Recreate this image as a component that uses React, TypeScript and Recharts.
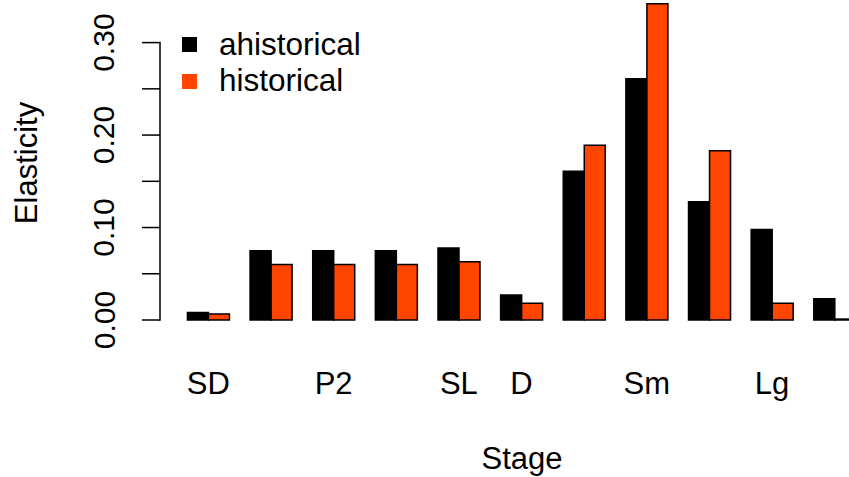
import { BarChart, Bar, XAxis, YAxis, Legend } from "recharts";

// stage labels as printed under the groups (R drops the ones that would overlap)
const stageLabels = ["SD", "", "P2", "", "SL", "D", "", "Sm", "", "Lg", ""];
const ahistorical = [0.008, 0.075, 0.075, 0.075, 0.078, 0.027, 0.161, 0.261, 0.128, 0.098, 0.023];
const historical = [0.0065, 0.06, 0.06, 0.06, 0.063, 0.018, 0.189, 0.342, 0.183, 0.018, 0.001];
const yTicks = [0, 0.05, 0.1, 0.15, 0.2, 0.25, 0.3];
const yLabelled = [0, 0.1, 0.2, 0.3];

const data = stageLabels.map((label, i) => ({
  idx: i,
  label,
  ahistorical: ahistorical[i],
  historical: historical[i]
}));

const FONT = "'Liberation Sans', Arial, Helvetica, sans-serif";
const ORANGE = "#FF4500";
const Y_MAX = 0.345;
const PLOT_TOP = 1;
const PLOT_H = 319;
const CHART_W = 866;
const CHART_H = 477;

function YTick(props: any) {
  const { x, y, payload } = props;
  const axisX = x - 17;
  const v = payload.value as number;
  const axisLen = (yTicks[yTicks.length - 1] / Y_MAX) * PLOT_H;
  const showLabel = yLabelled.some((t) => Math.abs(t - v) < 1e-9);
  return (
    <g>
      <line x1={axisX - 18} x2={axisX} y1={y} y2={y} stroke="#000" strokeWidth={1.5} />
      {v === 0 && (
        <line x1={axisX} x2={axisX} y1={y + 0.75} y2={y - axisLen - 0.75} stroke="#000" strokeWidth={1.5} />
      )}
      {showLabel && (
        <text
          x={x - 73}
          y={y}
          transform={`rotate(-90 ${x - 73} ${y})`}
          textAnchor="middle"
          dominantBaseline="central"
          fontFamily={FONT}
          fontSize={30}
          fill="#000"
        >
          {v.toFixed(2)}
        </text>
      )}
    </g>
  );
}

function XTick(props: any) {
  const { x, y, payload } = props;
  const label = stageLabels[payload.value];
  if (!label) return <g />;
  return (
    <text
      x={x}
      y={y + 63}
      textAnchor="middle"
      dominantBaseline="central"
      fontFamily={FONT}
      fontSize={31}
      fill="#000"
    >
      {label}
    </text>
  );
}

function LegendBox() {
  return (
    <svg width={400} height={110} style={{ display: "block" }}>
      <rect x={182} y={37} width={15} height={15} fill="#000" />
      <rect x={182} y={74} width={15} height={15} fill={ORANGE} />
      <text x={219} y={54.5} fontFamily={FONT} fontSize={31.5} fill="#000">
        ahistorical
      </text>
      <text x={219} y={90.5} fontFamily={FONT} fontSize={31.5} fill="#000">
        historical
      </text>
    </svg>
  );
}

export default function App() {
  return (
    <div
      style={{
        position: "absolute",
        left: 0,
        top: 0,
        width: 849,
        height: 477,
        overflow: "hidden",
        background: "#fff"
      }}
    >
      <BarChart
        width={CHART_W}
        height={CHART_H}
        data={data}
        margin={{ top: PLOT_TOP, right: 0, left: 0, bottom: 0 }}
        barCategoryGap="16.67%"
        barGap={0}
      >
        <XAxis
          dataKey="idx"
          type="category"
          height={CHART_H - PLOT_TOP - PLOT_H}
          axisLine={false}
          tickLine={false}
          tickSize={0}
          tickMargin={0}
          interval={0}
          tick={XTick}
          label={() => (
            <text
              x={522}
              y={458}
              textAnchor="middle"
              dominantBaseline="central"
              fontFamily={FONT}
              fontSize={31}
              fill="#000"
            >
              Stage
            </text>
          )}
        />
        <YAxis
          width={177}
          domain={[0, Y_MAX]}
          ticks={yTicks}
          interval={0}
          axisLine={false}
          tickLine={false}
          tickSize={0}
          tickMargin={0}
          tick={YTick}
          label={() => (
            <text
              x={26}
              y={163}
              transform="rotate(-90 26 163)"
              textAnchor="middle"
              dominantBaseline="central"
              fontFamily={FONT}
              fontSize={31}
              fill="#000"
            >
              Elasticity
            </text>
          )}
        />
        <Legend
          layout="vertical"
          align="center"
          verticalAlign="middle"
          content={LegendBox}
          wrapperStyle={{ left: 0, top: 0, width: 400, height: 110 }}
        />
        <Bar dataKey="ahistorical" fill="#000" stroke="#000" strokeWidth={1.5} isAnimationActive={false} />
        <Bar dataKey="historical" fill={ORANGE} stroke="#000" strokeWidth={1.5} isAnimationActive={false} />
      </BarChart>
    </div>
  );
}
